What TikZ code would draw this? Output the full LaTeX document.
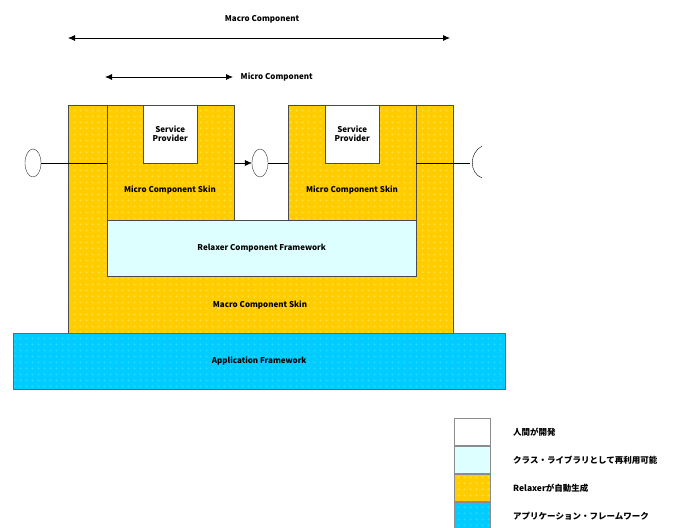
\documentclass[tikz,border=0pt]{standalone}
\usepackage{fontspec}
\setmainfont{Noto Sans CJK JP}
\usetikzlibrary{shapes, positioning, calc, patterns, arrows.meta}

\definecolor{skinyellow}{HTML}{FFCC00}
\definecolor{skindot}{HTML}{FFDD33}
\definecolor{relaxcyan}{HTML}{DDFFFF}
\definecolor{appcyan}{HTML}{00CCFF}
\definecolor{appdot}{HTML}{22D6FF}

\pgfdeclarepatternformonly{softdots}{\pgfpointorigin}{\pgfpoint{6pt}{6pt}}{\pgfpoint{6pt}{6pt}}
  {\pgfpathcircle{\pgfpoint{3pt}{3pt}}{1.4pt}\pgfusepath{fill}}

\tikzset{
  skin/.style={draw=black!70, preaction={fill=skinyellow}, pattern=softdots,
    pattern color=skindot, inner sep=0pt},
  appfw/.style={draw=black!60, preaction={fill=appcyan}, pattern=softdots,
    pattern color=appdot, inner sep=0pt},
  provider/.style={draw=black!70, fill=white, inner sep=0pt, align=center,
    minimum width=54, minimum height=58, anchor=north west},
  iface/.style={draw=black!80, ellipse, inner sep=0pt, minimum width=16, minimum height=28},
  legbox/.style={draw=black!45, line width=1pt, minimum width=36, minimum height=27, inner sep=0pt},
  legtext/.style={inner sep=0pt, anchor=west, font=\fontsize{8.5}{9}\selectfont\bfseries}
}

\begin{document}
\begin{tikzpicture}[x=1pt, y=-1pt, font=\fontsize{8}{9}\selectfont\bfseries, >={Latex[length=7pt, width=6pt]}]
\useasboundingbox (0,0) rectangle (676,527);

% macro component skin
\draw[skin] (68,105) -- (107,105) -- (107,220) -- (416,220) -- (416,105)
  -- (453,105) -- (453,333) -- (68,333) -- cycle;
\node (MacroSkin) at (260,305) {Macro Component Skin};

% micro components
\node[skin, minimum width=127, minimum height=115, anchor=north west] (MicroL) at (107,105) {};
\node[skin, minimum width=128, minimum height=115, anchor=north west] (MicroR) at (288,105) {};
\node[provider] (ProvL) at (143,105) {Service\\Provider};
\node[provider] (ProvR) at (325,105) {Service\\Provider};
\node (SkinL) at (170,190) {Micro Component Skin};
\node (SkinR) at (352,190) {Micro Component Skin};

% frameworks
\node[draw=black!70, fill=relaxcyan, minimum width=309, minimum height=56, anchor=north west] (Relaxer) at (107,220) {Relaxer Component Framework};
\node[appfw, minimum width=492, minimum height=56, anchor=north west] (AppFW) at (13,333) {};
\node (AppLbl) at (AppFW) {Application Framework};

% interfaces
\node[iface] (IfL) at (33,163) {};
\node[iface] (IfM) at (260,163) {};
\coordinate (IfR) at (470,163);
\draw (IfL.east) -- (IfL -| MicroL.west);
\draw[->] (IfM -| MicroL.east) -- (IfM.west);
\draw (IfM.east) -- (IfM -| MicroR.west);
\draw (IfR -| MicroR.east) -- (IfR);
\draw ($(IfR)+(12,-17)$) .. controls ($(IfR)+(-1,-10)$) and ($(IfR)+(-1,10)$) .. ($(IfR)+(12,15)$);

% component extents
\coordinate (MacroA) at (68,38);
\coordinate (MacroB) at (450,38);
\coordinate (MicroA) at (105,77);
\coordinate (MicroB) at (233,77);
\node (MacroLbl) at (262,19) {Macro Component};
\draw[<->, thick] (MacroA) -- (MacroB);
\draw[<->, thick] (MicroA) -- (MicroB) node[right=4pt] (MicroLbl) {Micro Component};

% legend
\node[legbox, fill=white, anchor=north west] (LegHuman) at (454,418) {};
\node[legbox, fill=relaxcyan, below=0pt of LegHuman] (LegLib) {};
\node[legbox, preaction={fill=skinyellow}, pattern=softdots, pattern color=skindot, below=0pt of LegLib] (LegGen) {};
\node[legbox, preaction={fill=appcyan}, pattern=softdots, pattern color=appdot, below=0pt of LegGen] (LegApp) {};
\node[legtext, right=22pt of LegHuman] {人間が開発};
\node[legtext, right=22pt of LegLib] {クラス・ライブラリとして再利用可能};
\node[legtext, right=22pt of LegGen] {Relaxerが自動生成};
\node[legtext, right=22pt of LegApp] {アプリケーション・フレームワーク};
\end{tikzpicture}
\end{document}
